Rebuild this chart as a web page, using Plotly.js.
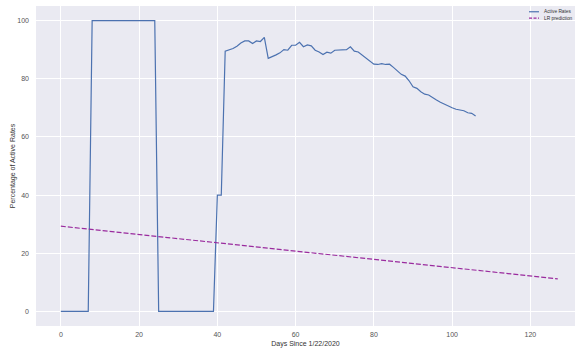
<!DOCTYPE html>
<html>
<head>
<meta charset="utf-8">
<script src="https://cdn.plot.ly/plotly-3.0.1.min.js"></script>
<style>html,body{margin:0;padding:0;background:#fff;overflow:hidden}#chart{width:575px;height:351px}</style>
</head>
<body>
<div id="chart"></div>
<script>
// Active rates per day since 1/22/2020 (days 0..106)
const activeRates = [
  0,0,0,0,0,0,0,0,
  100,100,100,100,100,100,100,100,100,100,100,100,100,100,100,100,100,
  0,0,0,0,0,0,0,0,0,0,0,0,0,0,0,
  40,40,
  89.5,90.0,90.4,91.2,92.3,93.0,93.0,92.1,93.0,92.8,94.2,
  87.0,87.5,88.2,88.9,90.0,89.8,91.5,91.5,92.5,91.0,91.6,91.3,
  89.8,89.2,88.3,89.1,88.8,89.8,89.8,89.8,90.0,91.0,89.5,89.2,
  88.1,87.2,86.2,85.0,84.9,85.2,84.9,85.0,83.9,82.7,81.5,80.9,
  79.3,77.2,76.7,75.5,74.7,74.4,73.4,72.7,71.9,71.2,70.6,70.0,
  69.5,69.2,69.0,68.3,68.1,67.2
];
const activeDays = activeRates.map((_, i) => i);

// Linear regression prediction endpoints
const lrDays = [0, 127];
const lrValues = [29.3, 11.2];

const xTicks = [0, 20, 40, 60, 80, 100, 120];
const yTicks = [0, 20, 40, 60, 80, 100];
const seriesNames = ['Active Rates', 'LR prediction'];
const seriesColors = ['#4C72B0', '#9a2b9e'];

const fam = 'Liberation Sans, Arial, sans-serif';
const tickFont = {family: fam, size: 7, color: '#555555'};

const traces = [
  {x: activeDays, y: activeRates, type: 'scatter', mode: 'lines', name: seriesNames[0],
   line: {color: seriesColors[0], width: 1.2}, showlegend: false},
  {x: lrDays, y: lrValues, type: 'scatter', mode: 'lines', name: seriesNames[1],
   line: {color: seriesColors[1], width: 1.2, dash: '5px,2px'}, showlegend: false}
];

// compact legend (matplotlib-like) built from shapes + annotations in paper space
const legY = [0.982, 0.962];
const legShapes = seriesNames.map((n, i) => ({
  type: 'line', xref: 'paper', yref: 'paper', x0: 0.9147, x1: 0.9332, y0: legY[i], y1: legY[i],
  line: {color: seriesColors[i], width: 1.2, dash: i === 1 ? '3px,1.5px' : 'solid'}
}));
const legAnn = seriesNames.map((n, i) => ({
  text: n, xref: 'paper', yref: 'paper', x: 0.9388, y: legY[i], xanchor: 'left', yanchor: 'middle',
  showarrow: false, font: {family: fam, size: 4.8, color: '#333'}
}));

const layout = {
  width: 575, height: 351,
  margin: {l: 36, r: 0, t: 6, b: 25},
  paper_bgcolor: '#ffffff',
  plot_bgcolor: '#EAEAF2',
  font: tickFont,
  showlegend: false,
  shapes: legShapes,
  annotations: legAnn,
  xaxis: {range: [-6.35, 131.4], tickvals: xTicks, ticktext: xTicks.map(String),
          showgrid: true, gridcolor: '#ffffff', gridwidth: 1, zeroline: false,
          showline: false, ticks: '', tickfont: tickFont, ticklabelstandoff: 3,
          title: {text: 'Days Since 1/22/2020', font: {family: fam, size: 7, color: '#333'}, standoff: 4}},
  yaxis: {range: [-5, 105], tickvals: yTicks, ticktext: yTicks.map(String),
          showgrid: true, gridcolor: '#ffffff', gridwidth: 1, zeroline: false,
          showline: false, ticks: '', tickfont: tickFont, ticklabelstandoff: 6,
          title: {text: 'Percentage of Active Rates', font: {family: fam, size: 7, color: '#333'}, standoff: 0}}
};

Plotly.newPlot('chart', traces, layout, {displayModeBar: false, staticPlot: true});
</script>
</body>
</html>
